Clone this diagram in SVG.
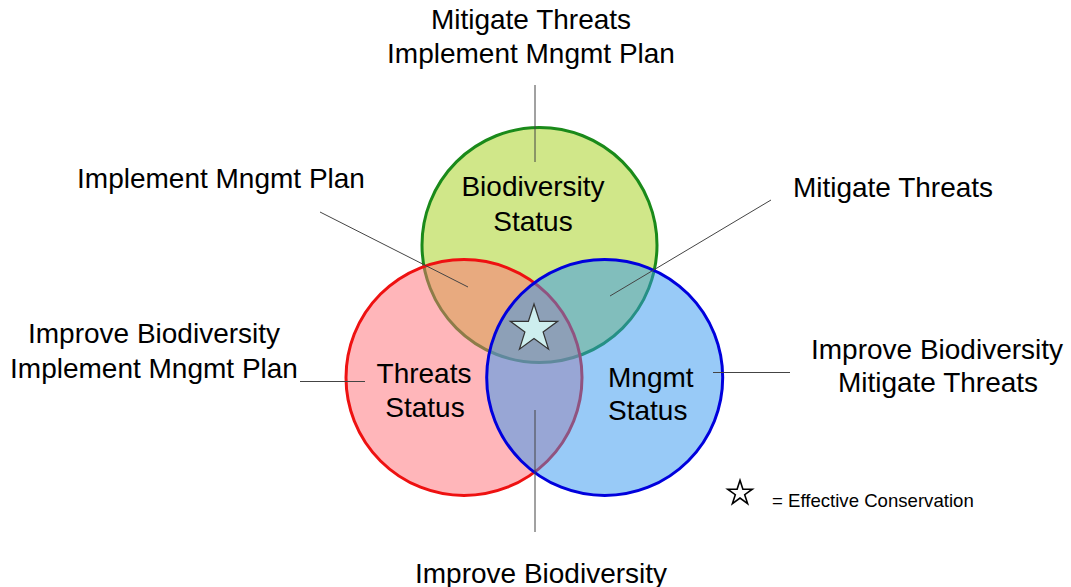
<svg xmlns="http://www.w3.org/2000/svg" width="1071" height="587" viewBox="0 0 1071 587">
  <style>
    .lbl { font-family: "Liberation Sans", Arial, sans-serif; font-size: 28px; fill: #000; }
    .mid { text-anchor: middle; }
    .lead { stroke: #444; stroke-width: 1; fill: none; }
    .set { fill-opacity: 0.5; stroke-width: 3; }
  </style>
  <rect width="1071" height="587" fill="#fff"/>

  <!-- three overlapping status sets -->
  <g id="biodiversity">
    <circle class="set" cx="539.5" cy="245" r="117.5" fill="#a1cf13" stroke="#1a8a1a"/>
    <text class="lbl mid" x="533" y="196">Biodiversity</text>
    <text class="lbl mid" x="533" y="231">Status</text>
  </g>
  <g id="threats">
    <circle class="set" cx="464" cy="377.5" r="118" fill="#ff6e76" stroke="#ee1111"/>
    <text class="lbl mid" x="424" y="383">Threats</text>
    <text class="lbl mid" x="425" y="417">Status</text>
  </g>
  <g id="mngmt">
    <circle class="set" cx="604.7" cy="377.5" r="118" fill="#3296f0" stroke="#0000dd"/>
    <text class="lbl" x="608" y="387">Mngmt</text>
    <text class="lbl" x="608" y="420">Status</text>
  </g>

  <!-- centre: effective conservation -->
  <g id="effective">
    <polygon points="534,304 539.6,321.3 557.7,321.3 543.1,332 548.6,349.2 534,338.6 519.4,349.2 524.9,332 510.3,321.3 528.4,321.3" fill="#cdeeee" stroke="#333" stroke-width="1.2" stroke-linejoin="miter"/>
  </g>

  <!-- leader lines -->
  <g id="connectors">
    <line class="lead" x1="535" y1="85" x2="535" y2="162"/>
    <line class="lead" x1="320" y1="212" x2="468" y2="287"/>
    <line class="lead" x1="771" y1="200" x2="610" y2="296"/>
    <line class="lead" x1="300" y1="381.5" x2="365" y2="381.5"/>
    <line class="lead" x1="713" y1="372.5" x2="790" y2="372.5"/>
    <line class="lead" x1="535" y1="410" x2="535" y2="532"/>
  </g>

  <!-- action labels -->
  <g id="label-top">
    <text class="lbl mid" x="531" y="29">Mitigate Threats</text>
    <text class="lbl mid" x="531" y="63">Implement Mngmt Plan</text>
  </g>
  <g id="label-upper-left">
    <text class="lbl mid" x="221" y="188">Implement Mngmt Plan</text>
  </g>
  <g id="label-upper-right">
    <text class="lbl mid" x="893" y="197">Mitigate Threats</text>
  </g>
  <g id="label-left">
    <text class="lbl mid" x="154" y="343">Improve Biodiversity</text>
    <text class="lbl mid" x="154" y="378">Implement Mngmt Plan</text>
  </g>
  <g id="label-right">
    <text class="lbl mid" x="937" y="359">Improve Biodiversity</text>
    <text class="lbl mid" x="938" y="392">Mitigate Threats</text>
  </g>
  <g id="label-bottom">
    <text class="lbl mid" x="541" y="583">Improve Biodiversity</text>
  </g>

  <!-- legend -->
  <g id="legend">
    <polygon points="740,480.3 742.9,489.2 752.3,489.2 744.7,494.7 747.6,503.6 740,498.1 732.4,503.6 735.3,494.7 727.7,489.2 737.1,489.2" fill="#fff" stroke="#000" stroke-width="1.6"/>
    <text x="772" y="507" style="font-family: 'Liberation Sans', Arial, sans-serif; font-size: 18.6px;">= Effective Conservation</text>
  </g>
</svg>
